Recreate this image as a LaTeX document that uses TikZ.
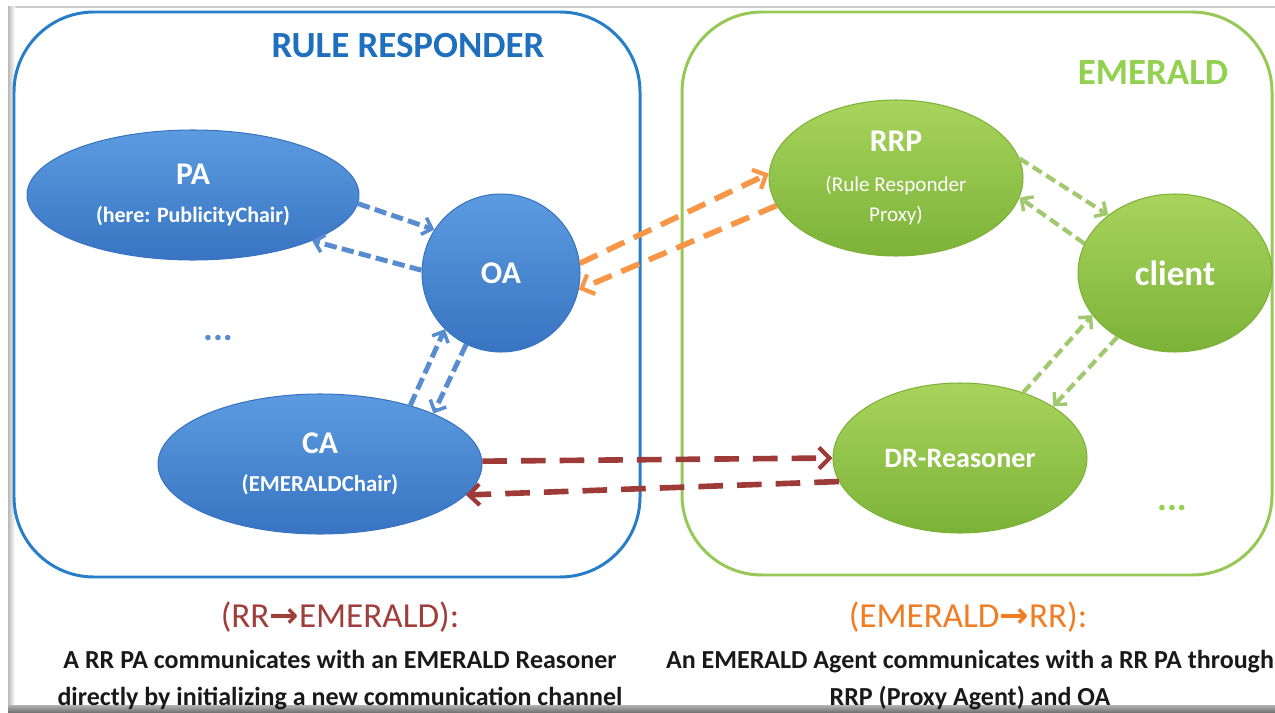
\documentclass[tikz,border=0pt]{standalone}
\usepackage{fontspec}
\setmainfont{Carlito}
\newfontfamily\arrowfont{DejaVu Sans}
\usetikzlibrary{shapes.geometric,arrows.meta}

\definecolor{rrblue}{RGB}{38,126,200}
\definecolor{rrtitle}{RGB}{30,112,190}
\definecolor{agentblue}{RGB}{92,155,224}
\definecolor{agentbluedark}{RGB}{56,116,194}
\definecolor{linkblue}{RGB}{88,140,208}
\definecolor{emgreen}{RGB}{150,200,85}
\definecolor{emtitle}{RGB}{146,208,80}
\definecolor{agentgreen}{RGB}{168,212,92}
\definecolor{agentgreendark}{RGB}{124,178,56}
\definecolor{linkgreen}{RGB}{160,200,110}
\definecolor{linkorange}{RGB}{246,150,70}
\definecolor{linkred}{RGB}{158,58,55}
\definecolor{notered}{RGB}{160,62,60}
\definecolor{noteorange}{RGB}{240,125,35}

\begin{document}
\begin{tikzpicture}
    [x=0.02cm, y=-0.02cm,
     blue agent/.style={ellipse, draw=agentbluedark, line width=0.6pt,
       top color=agentblue, bottom color=agentbluedark, text=white,
       align=center, inner sep=0pt},
     green agent/.style={ellipse, draw=agentgreendark, line width=0.6pt,
       top color=agentgreen, bottom color=agentgreendark, text=white,
       align=center, inner sep=0pt},
     big/.style={font=\fontsize{18}{20}\selectfont\bfseries},
     blue link/.style={draw=linkblue, line width=2.8pt, dash pattern=on 7pt off 3pt,
       -{Straight Barb[length=5pt, width=10pt, line width=2pt]}},
     green link/.style={draw=linkgreen, line width=2.4pt, dash pattern=on 6pt off 3pt,
       -{Straight Barb[length=5pt, width=10pt, line width=2pt]}},
     orange link/.style={draw=linkorange, line width=3.2pt, dash pattern=on 11pt off 6pt,
       -{Straight Barb[length=6pt, width=12pt, line width=2.4pt]}},
     red link/.style={draw=linkred, line width=3.2pt, dash pattern=on 14pt off 8pt,
       -{Straight Barb[length=6pt, width=12pt, line width=2.4pt]}},
     note/.style={font=\fontsize{14.8}{21.5}\selectfont\bfseries, text=black!90, align=center}]
    \useasboundingbox (0, 0) rectangle (1275, 713);
    % frame
    \draw[gray!40, line width=0.8pt] (8, 7) -- (1275, 7);
    \shade[left color=gray!55, right color=white] (8, 7) rectangle (15, 706);
    \shade[top color=gray!60, bottom color=gray!85!black] (8, 705) rectangle (1275, 713);
    % the two systems
    \draw[rrblue, line width=1.7pt, rounded corners=1.6cm] (14, 12) rectangle (640, 577);
    \draw[emgreen, line width=1.7pt, rounded corners=1.6cm] (682, 12) rectangle (1272, 575);
    \node[text=rrtitle, font=\fontsize{21}{24}\selectfont\bfseries] (rrtitle) at (408, 46) {RULE RESPONDER};
    \node[text=emtitle, font=\fontsize{21}{24}\selectfont\bfseries] (emtitle) at (1153, 73) {EMERALD};

    % rule responder agents
    \node[blue agent, minimum width=6.64cm, minimum height=2.6cm,
      font=\fontsize{12.5}{15}\selectfont\bfseries] (pa) at (193, 195)
      {\fontsize{18}{20}\selectfont PA\\[7pt] (here: PublicityChair)};
    \node[blue agent, circle, minimum size=3.16cm, big] (oa) at (501, 273) {OA};
    \node[blue agent, minimum width=6.48cm, minimum height=2.8cm,
      font=\fontsize{13}{15}\selectfont\bfseries] (ca) at (320, 464)
      {\fontsize{18}{20}\selectfont CA\\[7pt] (EMERALDChair)};
    \node[text=linkblue, font=\fontsize{21}{22}\selectfont\bfseries] (rrdots) at (218, 338) {...};

    % emerald agents
    \node[green agent, minimum width=5.08cm, minimum height=3.12cm,
      font=\fontsize{12}{16}\selectfont] (rrp) at (896, 178)
      {\fontsize{18}{20}\selectfont\bfseries RRP\\[7pt] (Rule Responder\\[1pt] Proxy)};
    \node[green agent, minimum width=3.88cm, minimum height=3.16cm,
      font=\fontsize{20}{22}\selectfont\bfseries] (client) at (1175, 273) {client};
    \node[green agent, minimum width=5.08cm, minimum height=3.0cm,
      font=\fontsize{16}{18}\selectfont\bfseries] (dr) at (960, 458) {DR-Reasoner};
    \node[text=emtitle, font=\fontsize{21}{22}\selectfont\bfseries] (emdots) at (1172, 508) {...};

    % links
    \draw[blue link] (pa.-3) -- (oa.147);
    \draw[blue link] (oa.178) -- (pa.-21);
    \draw[blue link] (ca.33) -- (oa.225);
    \draw[blue link] (oa.244) -- (ca.24);
    \draw[orange link] (oa.7) -- (rrp.178);
    \draw[orange link] (rrp.193) -- (oa.-12);
    \draw[green link] (rrp.9) -- (client.139);
    \draw[green link] (client.162) -- (rrp.-9);
    \draw[green link] (dr.46) -- (client.207);
    \draw[green link] (client.228) -- (dr.29);
    \draw[red link] (ca.1) -- (dr.180);
    \draw[red link] (dr.191) -- (ca.-12);

    % notes
    \node[text=notered, font=\fontsize{20}{24}\selectfont] (rrnote) at (340, 617)
      {(RR{\arrowfont\bfseries →}EMERALD):};
    \node[note] (rrtext) at (340, 680)
      {A RR PA communicates with an EMERALD Reasoner\\
       directly by initializing a new communication channel};
    \node[text=noteorange, font=\fontsize{20}{24}\selectfont] (emnote) at (968, 617)
      {(EMERALD{\arrowfont\bfseries →}RR):};
    \node[note] (emtext) at (970, 680)
      {An EMERALD Agent communicates with a RR PA through\\
       RRP (Proxy Agent) and OA};
\end{tikzpicture}
\end{document}
